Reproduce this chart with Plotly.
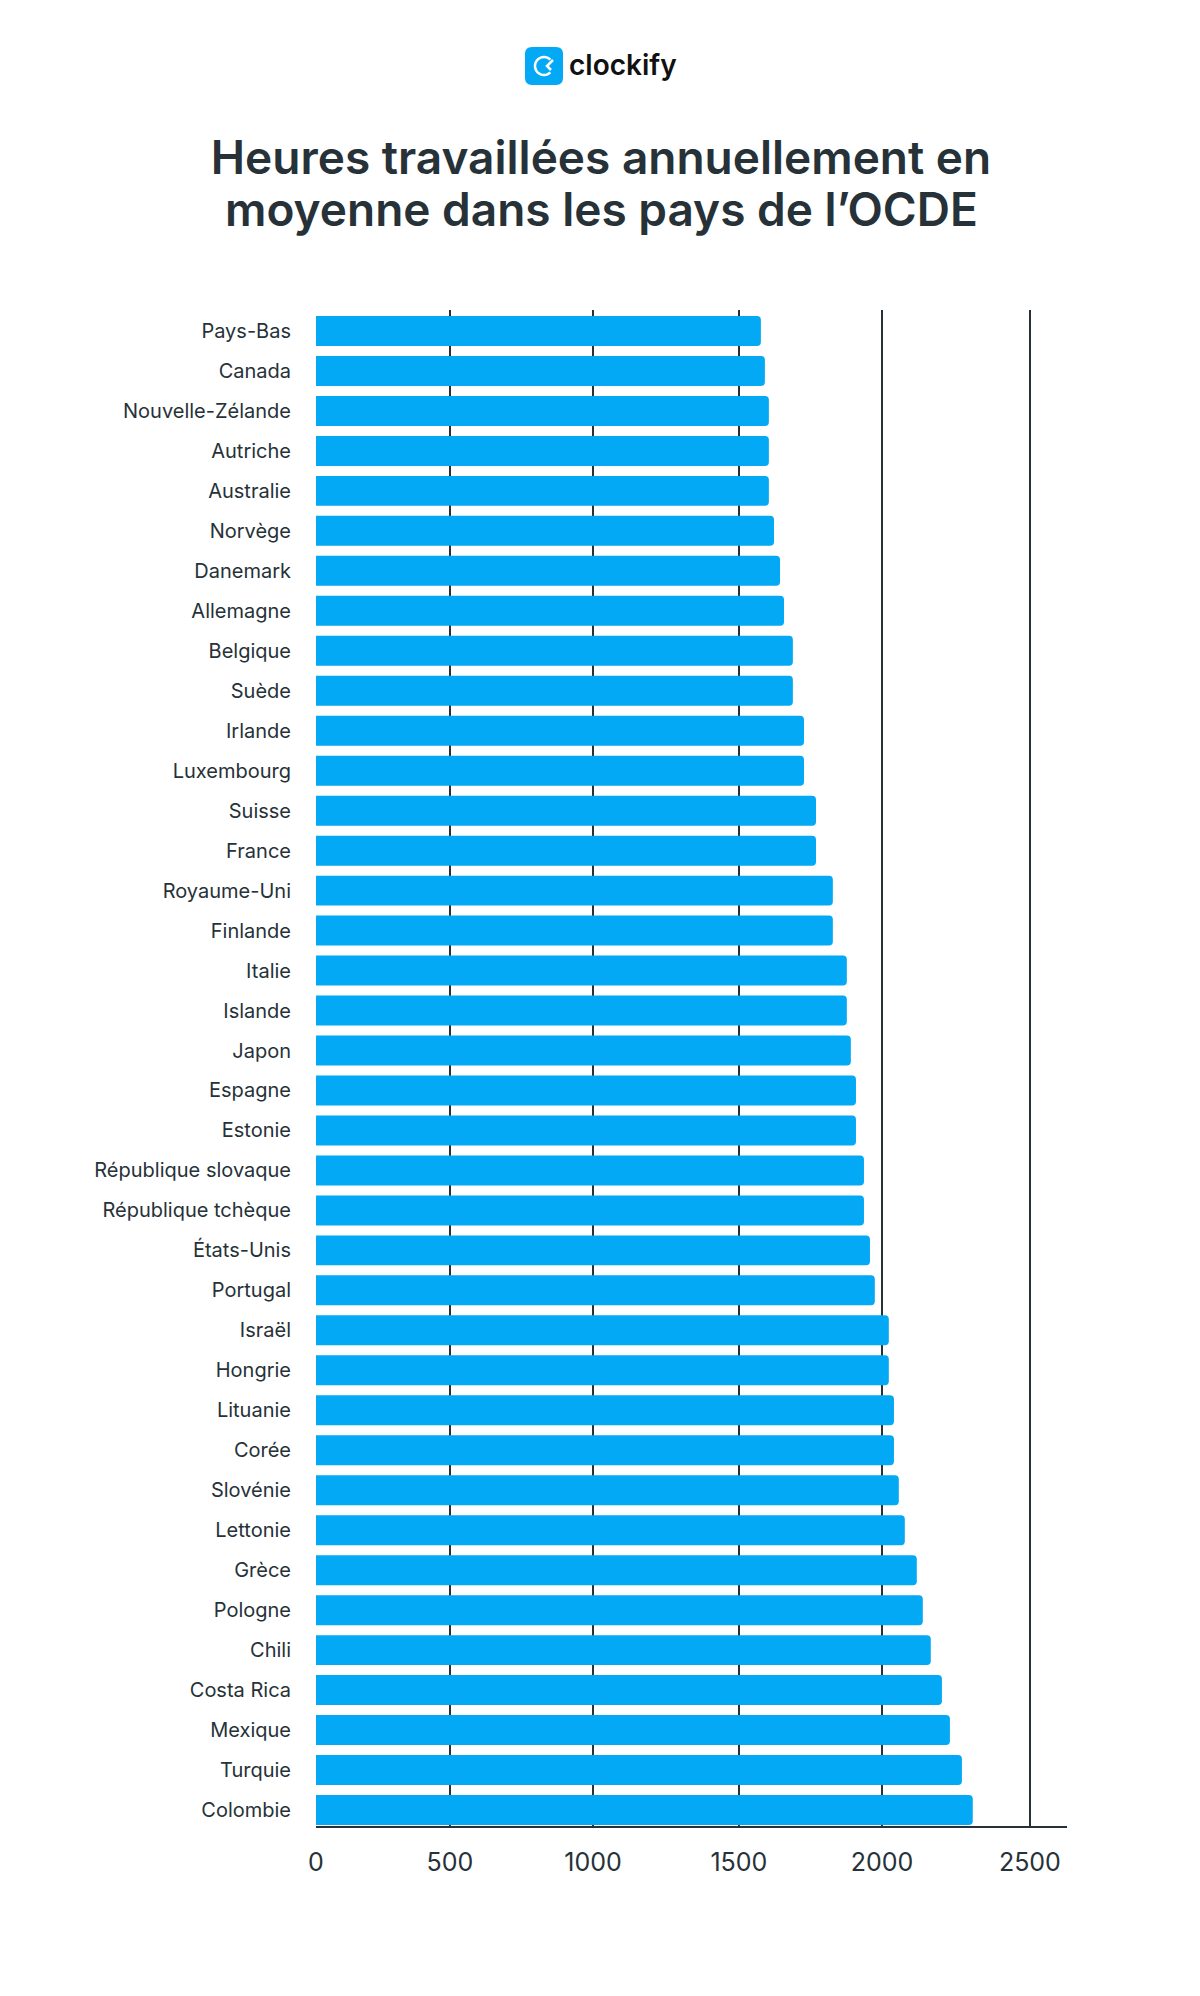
import numpy as np
import plotly.graph_objects as go

COUNTRIES = ["Pays-Bas","Canada","Nouvelle-Zélande","Autriche","Australie","Norvège","Danemark","Allemagne",
             "Belgique","Suède","Irlande","Luxembourg","Suisse","France","Royaume-Uni","Finlande","Italie",
             "Islande","Japon","Espagne","Estonie","République slovaque","République tchèque","États-Unis",
             "Portugal","Israël","Hongrie","Lituanie","Corée","Slovénie","Lettonie","Grèce","Pologne","Chili",
             "Costa Rica","Mexique","Turquie","Colombie"]
HOURS = [1558,1572,1586,1586,1586,1604,1625,1639,1670,1670,1709,1709,1751,1751,1810,1810,1859,1859,1873,
         1891,1891,1919,1919,1940,1957,2006,2006,2024,2024,2041,2062,2104,2125,2153,2192,2220,2262,2300]
TICK_LABELS = ["0","500","1000","1500","2000","2500"]
# the reference's gridlines are not evenly spaced
TICK_VALUES = [0,469,970,1481,1982,2500]
TITLE_LINES = ["Heures travaillées annuellement en", "moyenne dans les pays de l’OCDE"]

INK = "#263238"
BLUE = "#03A9F4"
FONT = "Inter, sans-serif"
L, R, T, B = 316, 1067, 310, 1826

def px(x, y):
    return f"{(x-L)/(R-L):.5f},{(B-y)/(B-T):.5f}"

def round_rect(x0, y0, x1, y1, r):
    return (f"M{px(x0+r,y0)} L{px(x1-r,y0)} Q{px(x1,y0)} {px(x1,y0+r)} L{px(x1,y1-r)} Q{px(x1,y1)} {px(x1-r,y1)} "
            f"L{px(x0+r,y1)} Q{px(x0,y1)} {px(x0,y1-r)} L{px(x0,y0+r)} Q{px(x0,y0)} {px(x0+r,y0)} Z")

def arc(cx, cy, r, a0, a1, n=40):
    pts = [px(cx + r*np.cos(a), cy - r*np.sin(a)) for a in np.radians(np.linspace(a0, a1, n))]
    return "M" + " L".join(pts)

shapes = [
    dict(type="path", xref="paper", yref="paper", path=round_rect(525, 47, 563, 85, 7), fillcolor=BLUE, line_width=0),
    dict(type="path", xref="paper", yref="paper", path=arc(544, 66, 9, 45, 315), line=dict(color="white", width=2.5)),
    dict(type="path", xref="paper", yref="paper", path=f"M{px(553,60)} L{px(547,66)} L{px(551,70)}", line=dict(color="white", width=2.5)),
]

fig = go.Figure(go.Bar(y=COUNTRIES, x=HOURS, orientation="h", marker=dict(color=BLUE, line_width=0, cornerradius=4)))

TITLE_FONT = dict(family=FONT, size=46, color=INK, weight=600)
fig.update_layout(
    width=1200, height=1996, margin=dict(l=L, r=1200-R, t=T, b=1996-B, autoexpand=False),
    paper_bgcolor="white", plot_bgcolor="white", bargap=0.25, showlegend=False,
    font=dict(family=FONT, color=INK),
    title=dict(text=TITLE_LINES[0], font=TITLE_FONT,
               x=601/1200, xanchor="center", xref="container", y=1-158/1996, yanchor="middle", yref="container"),
    shapes=shapes,
    annotations=[
        dict(text=TITLE_LINES[1], xref="paper", yref="paper", x=(601-L)/(R-L), y=(B-209)/(B-T),
             xanchor="center", yanchor="middle", showarrow=False, font=TITLE_FONT),
        dict(text="clockify", xref="paper", yref="paper", x=(567-L)/(R-L), y=(B-65)/(B-T),
             xanchor="left", yanchor="middle", showarrow=False,
             font=dict(family=FONT, size=28, color="#111111", weight=600))],
)
fig.update_xaxes(range=[0,2630], tickmode="array", tickvals=TICK_VALUES, ticktext=TICK_LABELS,
                 showgrid=True, gridcolor=INK, gridwidth=2, zeroline=False, showline=True, linecolor=INK, linewidth=2,
                 ticks="", ticklabelstandoff=13, tickfont=dict(family=FONT, size=25, color=INK))
fig.update_yaxes(type="category", range=[37.4,-0.525], showgrid=False, zeroline=False, showline=False,
                 ticks="", ticklabelstandoff=24, tickfont=dict(family=FONT, size=20, color=INK))
fig.write_html("out.html", post_script="document.body.style.margin='0';", config=dict(displayModeBar=False))
